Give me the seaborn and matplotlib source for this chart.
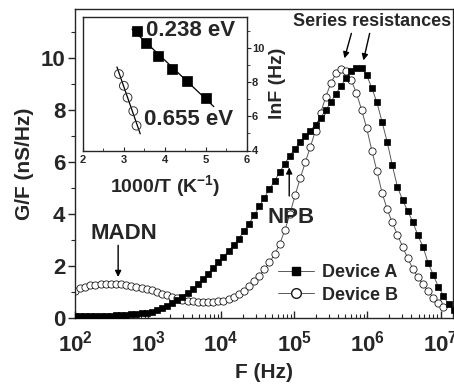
import numpy as np
import pandas as pd
import seaborn as sns
import matplotlib
matplotlib.use("Agg")
import matplotlib.pyplot as plt
from matplotlib.ticker import LogLocator, MultipleLocator, NullFormatter
from matplotlib.lines import Line2D

# ---------------- data ----------------
logF_A = [2.00, 2.07, 2.14, 2.21, 2.28, 2.35, 2.42, 2.49, 2.56, 2.63,
          2.70, 2.77, 2.84, 2.91, 2.98, 3.05, 3.12, 3.19, 3.26, 3.33,
          3.40, 3.47, 3.54, 3.61, 3.68, 3.75, 3.82, 3.89, 3.96, 4.03,
          4.10, 4.17, 4.24, 4.31, 4.38, 4.45, 4.52, 4.59, 4.66, 4.73,
          4.80, 4.87, 4.94, 5.01, 5.08, 5.15, 5.22, 5.29, 5.36, 5.43,
          5.50, 5.57, 5.64, 5.71, 5.78, 5.85, 5.92, 5.99, 6.06, 6.13,
          6.20, 6.27, 6.34, 6.41, 6.48, 6.55, 6.62, 6.69, 6.76, 6.83,
          6.90, 6.97, 7.04, 7.11, 7.18]
GF_A = [0.08, 0.08, 0.08, 0.08, 0.08, 0.08, 0.08, 0.09, 0.10, 0.11,
        0.12, 0.14, 0.16, 0.18, 0.21, 0.25, 0.31, 0.38, 0.47, 0.57,
        0.69, 0.82, 0.97, 1.12, 1.30, 1.50, 1.71, 1.93, 2.15, 2.36,
        2.57, 2.80, 3.06, 3.34, 3.63, 3.95, 4.30, 4.64, 4.96, 5.28,
        5.62, 5.95, 6.25, 6.52, 6.78, 7.00, 7.22, 7.45, 7.72, 8.00,
        8.32, 8.64, 8.95, 9.25, 9.50, 9.63, 9.62, 9.35, 8.85, 8.30,
        7.55, 6.78, 5.88, 5.05, 4.55, 4.12, 3.70, 3.18, 2.74, 2.12,
        1.66, 1.20, 0.86, 0.52, 0.30]

logF_B = [2.00, 2.07, 2.14, 2.21, 2.28, 2.35, 2.42, 2.49, 2.56, 2.63,
          2.70, 2.77, 2.84, 2.91, 2.98, 3.05, 3.12, 3.19, 3.26, 3.33,
          3.40, 3.47, 3.54, 3.61, 3.68, 3.75, 3.82, 3.89, 3.96, 4.03,
          4.10, 4.17, 4.24, 4.31, 4.38, 4.45, 4.52, 4.59, 4.66, 4.73,
          4.80, 4.87, 4.94, 5.01, 5.08, 5.15, 5.22, 5.29, 5.36, 5.43,
          5.50, 5.57, 5.64, 5.71, 5.78, 5.85, 5.92, 5.99, 6.06, 6.13,
          6.20, 6.27, 6.34, 6.41, 6.48, 6.55, 6.62, 6.69, 6.76, 6.83,
          6.90, 6.97, 7.04]
GF_B = [1.05, 1.14, 1.21, 1.26, 1.29, 1.31, 1.32, 1.32, 1.31, 1.30,
        1.28, 1.25, 1.21, 1.17, 1.12, 1.06, 1.00, 0.94, 0.88, 0.82,
        0.76, 0.71, 0.67, 0.64, 0.62, 0.61, 0.61, 0.62, 0.64, 0.67,
        0.72, 0.80, 0.91, 1.05, 1.22, 1.42, 1.63, 1.87, 2.14, 2.45,
        2.85, 3.38, 4.02, 4.72, 5.38, 6.00, 6.60, 7.22, 7.90, 8.52,
        9.05, 9.42, 9.60, 9.50, 9.15, 8.65, 8.02, 7.30, 6.45, 5.65,
        4.82, 4.18, 3.68, 3.20, 2.75, 2.30, 1.90, 1.57, 1.30, 1.03,
        0.78, 0.58, 0.44]

# inset: Arrhenius data
invT_A = [3.31, 3.55, 3.84, 4.17, 4.55, 5.00]
lnF_A = [10.97, 10.28, 9.55, 8.76, 8.07, 7.09]
invT_B = [2.88, 3.00, 3.09, 3.23, 3.31]
lnF_B = [8.47, 7.78, 7.09, 6.30, 5.45]
fit_range_A = [3.20, 5.20]
fit_range_B = [2.83, 3.40]

labels = ["Device A", "Device B"]
energies = ["0.238 eV", "0.655 eV"]

# ---------------- style ----------------
sns.set_style("ticks")
plt.rcParams["font.family"] = ["Liberation Sans", "DejaVu Sans"]
plt.rcParams["font.weight"] = "bold"
plt.rcParams["axes.labelweight"] = "bold"
plt.rcParams["mathtext.fontset"] = "custom"
plt.rcParams["mathtext.rm"] = "Liberation Sans:bold"
plt.rcParams["mathtext.it"] = "Liberation Sans:bold"
plt.rcParams["mathtext.bf"] = "Liberation Sans:bold"
plt.rcParams["mathtext.default"] = "regular"

W, H = 454, 385
fig = plt.figure(figsize=(W / 100, H / 100), dpi=100)
ax = fig.add_axes([75 / W, 1 - 318 / H, (453 - 75) / W, (318 - 9) / H])

dfA = pd.DataFrame({"F": np.power(10.0, logF_A), "G": GF_A})
dfB = pd.DataFrame({"F": np.power(10.0, logF_B), "G": GF_B})

sns.lineplot(data=dfA, x="F", y="G", ax=ax, color="0.35", lw=0.7,
             marker="s", markersize=4.6, markerfacecolor="black",
             markeredgecolor="black", markeredgewidth=0.5, zorder=3)
sns.lineplot(data=dfB, x="F", y="G", ax=ax, color="0.35", lw=0.7,
             marker="o", markersize=5.2, markerfacecolor="white",
             markeredgecolor="0.1", markeredgewidth=0.6, zorder=2)

ax.set_xscale("log")
ax.set_xlim(100, 10 ** 7.17)
ax.set_ylim(0, 11.9)
ax.yaxis.set_major_locator(MultipleLocator(2))
ax.yaxis.set_minor_locator(MultipleLocator(1))
ax.xaxis.set_major_locator(LogLocator(base=10, numticks=10))
ax.xaxis.set_minor_locator(LogLocator(base=10, subs=np.arange(2, 10), numticks=20))
ax.xaxis.set_minor_formatter(NullFormatter())
ax.tick_params(axis="x", which="major", direction="in", length=5, width=1,
               labelsize=16, pad=9)
ax.tick_params(axis="x", which="minor", direction="in", length=3, width=0.8)
ax.tick_params(axis="y", which="major", direction="out", length=5, width=1,
               labelsize=16, pad=2)
ax.tick_params(axis="y", which="minor", direction="out", length=3, width=0.8)
for lab in ax.get_xticklabels() + ax.get_yticklabels():
    lab.set_fontweight("bold")
for s in ax.spines.values():
    s.set_linewidth(1.0)

ax.set_xlabel("F (Hz)", fontsize=15, fontweight="bold", labelpad=5)
ax.set_ylabel("G/F (nS/Hz)", fontsize=15, fontweight="bold", labelpad=5)

# legend
handles = [
    Line2D([], [], color="0.35", lw=0.7, marker="s", markersize=6,
           markerfacecolor="black", markeredgecolor="black"),
    Line2D([], [], color="0.35", lw=0.7, marker="o", markersize=7,
           markerfacecolor="white", markeredgecolor="0.1"),
]
leg = ax.legend(handles, labels, loc="center left",
                bbox_to_anchor=((278 - 75) / 378, (318 - 284) / 309),
                frameon=False, fontsize=13, handlelength=2.0,
                handletextpad=0.45, labelspacing=0.3, borderpad=0,
                borderaxespad=0, numpoints=1)
for t in leg.get_texts():
    t.set_fontweight("bold")

# annotations
aprops = dict(arrowstyle="-|>", lw=1.0, color="black", mutation_scale=9,
              shrinkA=0, shrinkB=0)
ax.text(10 ** 2.67, 3.27, "MADN", fontsize=16, fontweight="bold",
        ha="center", va="center")
ax.annotate("", xy=(10 ** 2.59, 1.58), xytext=(10 ** 2.59, 2.8),
            arrowprops=aprops)
ax.text(10 ** 4.96, 3.88, "NPB", fontsize=16, fontweight="bold",
        ha="center", va="center")
ax.annotate("", xy=(10 ** 4.93, 5.8), xytext=(10 ** 4.93, 4.7),
            arrowprops=aprops)
ax.text(10 ** 6.06, 11.4, "Series resistances", fontsize=13,
        fontweight="bold", ha="center", va="center")
ax.annotate("", xy=(10 ** 5.685, 10.0), xytext=(10 ** 5.78, 10.96),
            arrowprops=aprops)
ax.annotate("", xy=(10 ** 5.945, 9.92), xytext=(10 ** 6.03, 10.96),
            arrowprops=aprops)

# ---------------- inset ----------------
ins = fig.add_axes([83 / W, 1 - 150.5 / H, (246.5 - 83) / W, (150.5 - 17) / H])
ins.set_facecolor("white")
for xs, ys, rng in [(invT_A, lnF_A, fit_range_A), (invT_B, lnF_B, fit_range_B)]:
    p = np.polyfit(xs, ys, 1)
    xx = np.array(rng)
    ins.plot(xx, np.polyval(p, xx), color="black", lw=0.9, zorder=1)
sns.scatterplot(x=invT_A, y=lnF_A, ax=ins, marker="s", s=42, color="black",
                edgecolor="black", linewidth=0.5, zorder=3)
sns.scatterplot(x=invT_B, y=lnF_B, ax=ins, marker="o", s=40,
                facecolor="none", edgecolor="0.2", linewidth=0.7, zorder=3)
ins.set_xlim(2, 6)
ins.set_ylim(4, 11.8)
ins.xaxis.set_major_locator(MultipleLocator(1))
ins.xaxis.set_minor_locator(MultipleLocator(0.5))
ins.yaxis.set_major_locator(MultipleLocator(2))
ins.yaxis.set_minor_locator(MultipleLocator(1))
ins.yaxis.tick_right()
ins.yaxis.set_label_position("right")
ins.tick_params(axis="x", which="major", direction="in", length=3, width=0.8,
                labelsize=8, pad=3)
ins.tick_params(axis="x", which="minor", direction="in", length=2, width=0.6)
ins.tick_params(axis="y", which="major", direction="out", length=3, width=0.8,
                labelsize=8, pad=1)
ins.tick_params(axis="y", which="minor", direction="out", length=2, width=0.6)
for lab in ins.get_xticklabels() + ins.get_yticklabels():
    lab.set_fontweight("bold")
for s in ins.spines.values():
    s.set_linewidth(1.0)
ins.set_xlabel("1000/T (K$^{-1}$)", fontsize=14, fontweight="bold", labelpad=6)
ins.set_ylabel("lnF (Hz)", fontsize=14, fontweight="bold", labelpad=3)
ins.text(3.55, 11.0, energies[0], fontsize=16, fontweight="bold",
         ha="left", va="center")
ins.text(3.50, 5.8, energies[1], fontsize=16, fontweight="bold",
         ha="left", va="center")

fig.savefig("out.png", dpi=100)
